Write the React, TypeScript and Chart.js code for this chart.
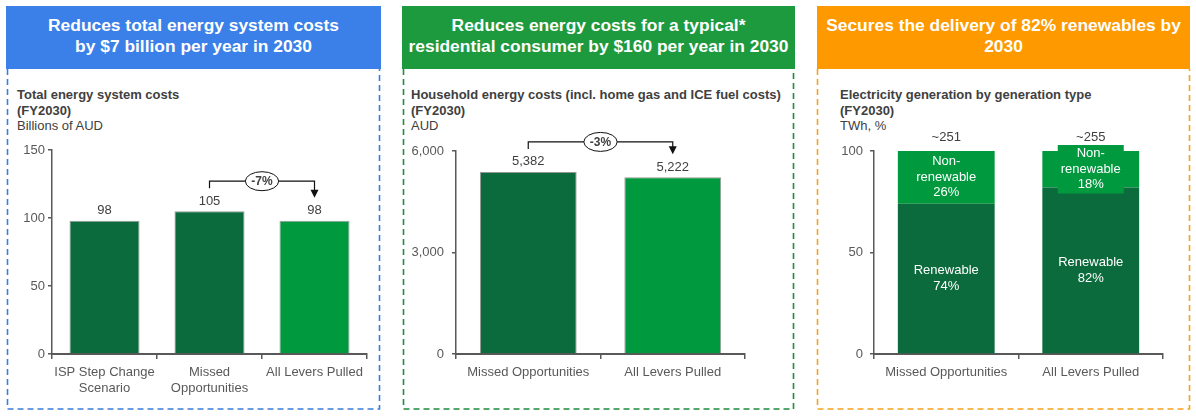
import React, { useEffect, useRef } from 'react';
import { Chart, registerables } from 'chart.js';

Chart.register(...registerables);

const FONT = "'Liberation Sans', Arial, Helvetica, sans-serif";
const DARK = '#0B6B3C';
const LIGHT = '#00993E';
const TEXT = '#404040';
const AXIS = '#595959';

// Panel 1 – total energy system costs (billions of AUD)
const costCategories = [['ISP Step Change', 'Scenario'], ['Missed', 'Opportunities'], 'All Levers Pulled'];
const costValues = [98, 105, 98];
const costColors = [DARK, DARK, LIGHT];
const costTicks = [0, 50, 100, 150];
const costChange = '-7%';

// Panel 2 – household energy costs (AUD)
const householdCategories = ['Missed Opportunities', 'All Levers Pulled'];
const householdValues = [5382, 5222];
const householdColors = [DARK, LIGHT];
const householdTicks = [0, 3000, 6000];
const householdChange = '-3%';

// Panel 3 – electricity generation by type (%)
const genCategories = ['Missed Opportunities', 'All Levers Pulled'];
const renewableShare = [74, 82];
const nonRenewableShare = [26, 18];
const genTotals = [251, 255];
const genTicks = [0, 50, 100];
const genSegmentNames = [['Renewable'], ['Non-', 'renewable']];

function valueLabelPlugin(format: (v: number) => string) {
  return {
    id: 'valueLabels',
    afterDatasetsDraw(chart: any) {
      const ctx = chart.ctx;
      const meta = chart.getDatasetMeta(0);
      const data = chart.data.datasets[0].data;
      ctx.save();
      ctx.font = `13px ${FONT}`;
      ctx.fillStyle = TEXT;
      ctx.textAlign = 'center';
      ctx.textBaseline = 'middle';
      meta.data.forEach((bar: any, i: number) => {
        ctx.fillText(format(data[i]), bar.x, bar.y - 10);
      });
      ctx.restore();
    },
  };
}

function bracketPlugin(from: number, to: number, text: string) {
  return {
    id: 'bracket',
    afterDatasetsDraw(chart: any) {
      const ctx = chart.ctx;
      const meta = chart.getDatasetMeta(0);
      const a = meta.data[from];
      const b = meta.data[to];
      const yStart = a.y - 23;
      const yTip = b.y - 23;
      const yLine = Math.min(a.y, b.y) - 30;
      ctx.save();
      ctx.strokeStyle = '#111';
      ctx.lineWidth = 1.2;
      ctx.beginPath();
      ctx.moveTo(a.x, yStart);
      ctx.lineTo(a.x, yLine);
      ctx.lineTo(b.x, yLine);
      ctx.lineTo(b.x, yTip - 7);
      ctx.stroke();
      ctx.fillStyle = '#111';
      ctx.beginPath();
      ctx.moveTo(b.x - 4, yTip - 8);
      ctx.lineTo(b.x + 4, yTip - 8);
      ctx.lineTo(b.x, yTip);
      ctx.closePath();
      ctx.fill();
      const cx = (a.x + b.x) / 2;
      ctx.font = `bold 12px ${FONT}`;
      const w = ctx.measureText(text).width + 12;
      ctx.beginPath();
      ctx.ellipse(cx, yLine, w / 2, 9.5, 0, 0, Math.PI * 2);
      ctx.fillStyle = '#fff';
      ctx.fill();
      ctx.lineWidth = 1;
      ctx.stroke();
      ctx.fillStyle = TEXT;
      ctx.textAlign = 'center';
      ctx.textBaseline = 'middle';
      ctx.fillText(text, cx, yLine + 0.5);
      ctx.restore();
    },
  };
}

const genLabelPlugin = {
  id: 'genLabels',
  afterDatasetsDraw(chart: any) {
    const ctx = chart.ctx;
    const lh = 15.5;
    ctx.save();
    ctx.font = `13px ${FONT}`;
    ctx.textAlign = 'center';
    ctx.textBaseline = 'middle';
    chart.data.datasets.forEach((ds: any, d: number) => {
      const meta = chart.getDatasetMeta(d);
      meta.data.forEach((bar: any, i: number) => {
        const lines = [...genSegmentNames[d], `${ds.data[i]}%`];
        const top = Math.min(bar.y, bar.base);
        const bottom = Math.max(bar.y, bar.base);
        const cy = (top + bottom) / 2;
        const block = lines.length * lh;
        if (block + 2 > bottom - top) {
          const tw = Math.max(...lines.map((l) => ctx.measureText(l).width));
          ctx.fillStyle = ds.backgroundColor;
          ctx.fillRect(bar.x - tw / 2 - 3, cy - block / 2 - 1, tw + 6, block + 2);
        }
        ctx.fillStyle = '#fff';
        lines.forEach((l, k) => {
          ctx.fillText(l, bar.x, cy - block / 2 + lh * (k + 0.5));
        });
      });
    });
    const topMeta = chart.getDatasetMeta(chart.data.datasets.length - 1);
    ctx.fillStyle = TEXT;
    topMeta.data.forEach((bar: any, i: number) => {
      ctx.fillText(`~${genTotals[i]}`, bar.x, Math.min(bar.y, bar.base) - 14);
    });
    ctx.restore();
  },
};

function makeScales(ticks: number[], yWidth: number, yPad: number, fmt: (v: number) => string, stacked = false) {
  return {
    x: {
      stacked,
      grid: { display: true, drawOnChartArea: false, drawTicks: true, tickLength: 5, color: AXIS, lineWidth: 1.5, offset: true },
      border: { display: true, color: AXIS, width: 2 },
      ticks: { color: AXIS, font: { family: FONT, size: 13, lineHeight: 1.23 }, padding: 5, maxRotation: 0, autoSkip: false },
      afterFit(scale: any) {
        scale.height = 51;
      },
    },
    y: {
      stacked,
      min: ticks[0],
      max: ticks[ticks.length - 1],
      grid: { display: true, drawOnChartArea: false, drawTicks: true, tickLength: 4, color: AXIS, lineWidth: 1.5 },
      border: { display: true, color: AXIS, width: 1.5 },
      ticks: { color: AXIS, font: { family: FONT, size: 13 }, padding: yPad, callback: (v: any) => fmt(Number(v)) },
      afterBuildTicks(scale: any) {
        scale.ticks = ticks.map((v) => ({ value: v }));
      },
      afterFit(scale: any) {
        scale.width = yWidth;
      },
    },
  };
}

const fmtComma = (v: number) => v.toLocaleString('en-US');
const fmtPlain = (v: number) => String(v);

function useChart(ref: React.RefObject<HTMLCanvasElement>, build: () => any) {
  useEffect(() => {
    if (!ref.current) return;
    const chart = new Chart(ref.current, build());
    return () => chart.destroy();
  }, []);
}

const baseOptions = (padTop: number, padRight: number) => ({
  responsive: true,
  maintainAspectRatio: false,
  animation: false as const,
  layout: { padding: { top: padTop, right: padRight, left: 0, bottom: 0 } },
  plugins: { legend: { display: false }, tooltip: { enabled: false } },
});

const Header = ({ left, width, bg, lines }: { left: number; width: number; bg: string; lines: string[] }) => (
  <div
    style={{
      position: 'absolute',
      left,
      top: 6,
      width,
      height: 63,
      boxSizing: 'border-box',
      paddingBottom: 3,
      background: bg,
      color: '#fff',
      fontWeight: 'bold',
      fontSize: 17.4,
      lineHeight: '21px',
      display: 'flex',
      flexDirection: 'column',
      alignItems: 'center',
      justifyContent: 'center',
      textAlign: 'center',
      whiteSpace: 'nowrap',
    }}
  >
    {lines.map((l, i) => (
      <div key={i}>{l}</div>
    ))}
  </div>
);

const Subtitle = ({ left, bold, normal }: { left: number; bold: string[]; normal: string }) => (
  <div style={{ position: 'absolute', left, top: 87, fontSize: 13, lineHeight: '15.5px', color: TEXT, whiteSpace: 'nowrap' }}>
    {bold.map((b, i) => (
      <div key={i} style={{ fontWeight: 'bold' }}>
        {b}
      </div>
    ))}
    <div>{normal}</div>
  </div>
);

const DashedBox = ({ x1, x2, color }: { x1: number; x2: number; color: string }) => (
  <svg style={{ position: 'absolute', left: 0, top: 0 }} width={1196} height={417}>
    <path d={`M${x1} 69 L${x1} 409 L${x2} 409 L${x2} 69`} fill="none" stroke={color} strokeWidth={1.6} strokeDasharray="6 4" />
  </svg>
);

export default function App() {
  const c1 = useRef<HTMLCanvasElement>(null);
  const c2 = useRef<HTMLCanvasElement>(null);
  const c3 = useRef<HTMLCanvasElement>(null);

  useEffect(() => {
    document.body.style.margin = '0';
  }, []);

  useChart(c1, () => ({
    type: 'bar',
    data: {
      labels: costCategories,
      datasets: [
        {
          data: costValues,
          backgroundColor: costColors,
          borderColor: 'rgba(70,70,70,0.55)',
          borderWidth: 1,
          categoryPercentage: 0.667,
          barPercentage: 1,
        },
      ],
    },
    options: { ...baseOptions(22, 11), scales: makeScales(costTicks, 42, 3, fmtPlain) },
    plugins: [valueLabelPlugin(fmtPlain), bracketPlugin(1, 2, costChange)],
  }));

  useChart(c2, () => ({
    type: 'bar',
    data: {
      labels: householdCategories,
      datasets: [
        {
          data: householdValues,
          backgroundColor: householdColors,
          borderColor: 'rgba(70,70,70,0.55)',
          borderWidth: 1,
          categoryPercentage: 0.67,
          barPercentage: 1,
        },
      ],
    },
    options: { ...baseOptions(23, 45), scales: makeScales(householdTicks, 51, 8, fmtComma) },
    plugins: [valueLabelPlugin(fmtComma), bracketPlugin(0, 1, householdChange)],
  }));

  useChart(c3, () => ({
    type: 'bar',
    data: {
      labels: genCategories,
      datasets: [
        { label: 'Renewable', data: renewableShare, backgroundColor: DARK, categoryPercentage: 0.67, barPercentage: 1 },
        { label: 'Non-renewable', data: nonRenewableShare, backgroundColor: LIGHT, categoryPercentage: 0.67, barPercentage: 1 },
      ],
    },
    options: { ...baseOptions(23, 23), scales: makeScales(genTicks, 54, 7, fmtPlain, true) },
    plugins: [genLabelPlugin],
  }));

  return (
    <div style={{ position: 'relative', width: 1196, height: 417, fontFamily: FONT, background: '#fff', overflow: 'hidden' }}>
      <DashedBox x1={7.5} x2={379.5} color="#3B7DDD" />
      <DashedBox x1={403.5} x2={793.5} color="#1E8C3E" />
      <DashedBox x1={817.5} x2={1189.5} color="#F5A21F" />
      <Header left={6} width={375} bg="#3A80E8" lines={['Reduces total energy system costs', 'by $7 billion per year in 2030']} />
      <Header left={402} width={393} bg="#1E9A3E" lines={['Reduces energy costs for a typical*', 'residential consumer by $160 per year in 2030']} />
      <Header left={817} width={373} bg="#FF9900" lines={['Secures the delivery of 82% renewables by', '2030']} />
      <Subtitle left={17} bold={['Total energy system costs', '(FY2030)']} normal="Billions of AUD" />
      <Subtitle left={411} bold={['Household energy costs (incl. home gas and ICE fuel costs)', '(FY2030)']} normal="AUD" />
      <Subtitle left={840} bold={['Electricity generation by generation type', '(FY2030)']} normal="TWh, %" />
      <div style={{ position: 'absolute', left: 10, top: 128, width: 368, height: 277 }}>
        <canvas ref={c1} />
      </div>
      <div style={{ position: 'absolute', left: 405, top: 128, width: 385, height: 277 }}>
        <canvas ref={c2} />
      </div>
      <div style={{ position: 'absolute', left: 820, top: 128, width: 366, height: 277 }}>
        <canvas ref={c3} />
      </div>
    </div>
  );
}
